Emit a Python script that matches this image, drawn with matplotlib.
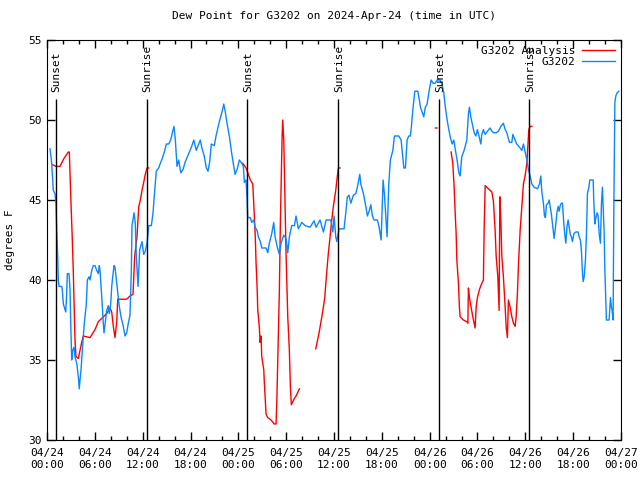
import matplotlib
matplotlib.use("Agg")
import matplotlib.pyplot as plt
import numpy as np

plt.rcParams['font.family'] = ['DejaVu Sans Mono']
plt.rcParams['font.size'] = 8

nan = np.nan

# hours since 2024-04-24 00:00 UTC
obs_hours = [0.38, 0.59, 0.79, 1.00, 1.13, 1.22, 1.34, 1.42, 1.51, 1.84, 1.92, 2.05, 2.35, 2.47,
             2.55, 2.76, 2.89, 2.97, 3.10, 3.22, 3.39, 3.51, 3.73, 3.93, 4.05, 4.14, 4.27, 4.43,
             4.68, 4.93, 5.06, 5.27, 5.40, 5.61, 5.81, 6.02, 6.24, 6.44, 6.56, 6.65, 6.86, 7.06,
             7.15, 7.28, 7.49, 7.69, 7.82, 7.99, 8.12, 8.24, 8.41, 8.53, 8.66, 8.82, 9.03, 9.28,
             9.57, 9.79, 10.0, 10.2, 10.41, 10.58, 10.66, 10.92, 11.08, 11.20, 11.42, 11.63, 11.92,
             12.13, 12.33, 12.55, 12.76, 13.09, 13.30, 13.51, 13.71, 14.01, 14.22, 14.47, 14.77,
             14.97, 15.27, 15.52, 15.72, 15.93, 16.10, 16.31, 16.52, 16.78, 17.06, 17.35, 17.69,
             18.11, 18.41, 18.73, 18.95, 19.23, 19.45, 19.70, 19.99, 20.20, 20.41, 20.61, 20.99,
             21.20, 21.62, 22.05, 22.17, 22.33, 22.58, 22.87, 23.17, 23.43, 23.59, 23.84, 24.13,
             24.43, 24.63, 24.76, 24.97, 25.09, 25.18, 25.51, 25.68, 25.93, 26.10, 26.35, 26.51,
             26.76, 26.94, 27.48, 27.69, 27.89, 28.19, 28.44, 28.61, 28.86, 29.15, 29.36, 29.70,
             29.99, 30.20, 30.40, 30.70, 31.03, 31.24, 31.53, 31.96, 32.37, 33.00, 33.50, 33.75,
             34.25, 34.67, 35.01, 35.60, 35.85, 36.01, 36.22, 36.35, 36.64, 37.26, 37.48, 37.68,
             37.89, 38.11, 38.43, 38.73, 38.93, 39.23, 39.36, 39.69, 39.99, 40.19, 40.40, 40.62,
             40.82, 41.03, 41.44, 41.66, 41.91, 42.16, 42.32, 42.66, 42.87, 43.07, 43.38, 43.58,
             44.13, 44.42, 44.67, 44.76, 44.96, 45.17, 45.38, 45.58, 45.71, 45.92, 46.14, 46.51,
             46.71, 46.84, 47.05, 47.26, 47.46, 47.68, 47.89, 48.18, 48.43, 48.72, 48.93, 49.31,
             49.56, 49.77, 49.97, 50.19, 50.40, 50.60, 50.82, 51.03, 51.23, 51.44, 51.66, 51.82,
             52.03, 52.32, 52.66, 52.86, 52.99, 53.16, 53.41, 53.58, 53.79, 53.99, 54.42, 54.54,
             54.74, 54.96, 55.25, 55.58, 55.80, 56.00, 56.34, 56.63, 56.93, 57.25, 57.47, 57.68,
             58.01, 58.31, 58.43, 58.59, 58.93, 59.26, 59.56, 59.76, 59.97, 60.19, 60.39, 60.60,
             60.82, 61.10, 61.52, 61.77, 61.94, 62.07, 62.27, 62.40, 62.52, 62.65, 62.86, 62.99,
             63.27, 63.49, 63.61, 63.78, 63.99, 64.12, 64.24, 64.40, 64.53, 64.66, 64.83, 64.96,
             65.08, 65.24, 65.37, 65.50, 65.66, 65.78, 65.91, 66.09, 66.34, 66.62, 66.75, 66.91,
             67.04, 67.17, 67.25, 67.38, 67.54, 67.67, 67.79, 67.97, 68.09, 68.51, 68.59, 68.72,
             68.85, 69.01, 69.13, 69.26, 69.42, 69.55, 69.67, 69.76, 69.89, 69.97, 70.10, 70.17,
             70.51, 70.68, 70.80, 70.89, 71.01, 71.10, 71.23, 71.35, 71.52, 71.73]
obs_dewpt = [48.2, 47.3, 45.6, 45.4, 44.8, 43.1, 41.5, 40.0, 39.6, 39.6, 39.4, 38.5, 38.0, 39.2,
             40.4, 40.4, 39.4, 37.4, 35.0, 35.6, 35.8, 35.2, 34.8, 33.95, 33.2, 33.75, 34.4, 35.6,
             37.3, 38.5, 40.0, 40.2, 40.0, 40.6, 40.9, 40.9, 40.6, 40.4, 40.9, 40.6, 39.0, 37.3,
             36.7, 37.2, 38.1, 38.4, 37.9, 38.5, 39.6, 40.2, 40.9, 40.8, 40.2, 39.4, 38.5, 37.7,
             37.1, 36.5, 36.7, 37.3, 37.8, 40.6, 43.4, 44.2, 43.5, 41.5, 39.6, 41.9, 42.4,
             41.6, 41.8, 42.3, 43.4, 43.4, 44.2, 45.6, 46.8, 47.0, 47.3, 47.6, 48.1,
             48.5, 48.5, 48.75, 49.2, 49.6, 48.75, 47.1, 47.5, 46.7, 46.9, 47.4, 47.8,
             48.3, 48.75, 48.1, 48.4, 48.75, 48.2, 47.8, 47.0, 46.8, 47.4, 48.5, 48.4,
             49.0, 49.9, 50.7, 51.0, 50.6, 49.8, 49.0, 47.9, 47.1, 46.6, 46.9, 47.5,
             47.3, 47.1, 46.1, 46.25, 45.1, 43.9, 43.9, 43.6, 43.75, 43.3, 43.1, 42.7,
             42.4, 42.0, 42.0, 41.7, 42.3, 42.9, 43.6, 42.7, 42.1, 41.6, 42.3, 42.8,
             42.6, 41.7, 42.7, 43.4, 43.4, 44.0, 43.2, 43.6, 43.4, 43.3, 43.7, 43.3,
             43.75, 43.0, 43.75, 43.75, 43.0, 44.0, 42.7, 42.4, 43.2, 43.2, 44.2, 45.2,
             45.3, 44.8, 45.3, 45.4, 45.8, 46.6, 46.0, 45.4, 44.6, 44.0, 44.3, 44.7,
             44.0, 43.75, 43.75, 43.3, 42.5, 46.25, 45.4, 42.7, 46.0, 47.5, 48.1, 49.0,
             49.0, 48.75, 47.5, 47.0, 47.0, 48.75, 49.0, 49.0, 49.6, 50.8, 51.8, 51.8,
             51.25, 50.8, 50.5, 50.2, 50.8, 51.0, 51.7, 52.5, 52.3, 52.3, 52.5, 52.5,
             52.2, 51.7, 50.8, 50.0, 49.4, 48.9, 48.5, 48.75, 48.1, 47.5, 46.7, 46.5,
             47.7, 48.1, 48.75, 50.4, 50.8, 50.2, 49.6, 49.2, 49.0, 49.4, 48.5, 49.1,
             49.4, 49.1, 49.3, 49.5, 49.3, 49.2, 49.2, 49.3, 49.6, 49.8, 49.4, 49.2,
             48.6, 48.6, 49.1, 48.9, 48.5, 48.3, 48.1, 48.5, 48.0, 47.5, 46.9, 46.5,
             46.0, 45.8, 45.7, 46.0, 46.5, 45.5, 44.8, 44.0, 43.9, 44.7, 44.8, 45.0,
             44.1, 43.1, 42.6, 43.3, 44.3, 44.6, 44.3, 44.7, 44.8, 44.8, 43.5, 42.8,
             42.3, 43.4, 43.75, 43.3, 42.8, 42.7, 42.4, 42.9, 43.0, 43.0, 42.7, 42.5,
             41.8, 40.4, 39.9, 40.2, 41.25, 42.9, 45.4, 45.8, 46.25, 46.25, 44.9, 43.5,
             43.9, 44.2, 44.0, 42.9, 42.3, 44.8, 45.8, 44.6, 42.9, 40.7, 38.6, 37.5,
             37.5, 38.9, 38.3, 38.1, 37.5, 44.3, 51.1, 51.5, 51.7, 51.8]

# analysis series, nan marks gaps
ana_hours = [0.72, 1.13, 1.63, 2.13, 2.67, 2.80, 3.01, 3.17, 3.30, 3.51, 3.64, 3.93, 4.35, 4.55,
             5.40, 6.02, 6.44, 7.06, 7.49, 7.90, 8.12, 8.32, 8.53, 8.75, 8.87, 10.0, 10.41, 10.79,
             11.00, 11.29, 11.51, 11.71, 11.92, 12.13, 12.33, 12.55, 12.76, 13.5,
             24.55, 24.97, 25.26, 25.51, 25.81, 26.01, 26.14, 26.22, 26.35, 26.44, 26.64, 26.73,
             26.85, 26.94, 27.19, 27.26, 27.48, 27.69, 28.11, 28.52, 28.73, 28.82, 28.95, 29.15,
             29.27, 29.36, 29.49, 29.57, 29.70, 29.86, 29.99, 30.20, 30.40, 30.53, 30.65, 31.03,
             31.24, 31.66, 32.5,
             33.71, 34.13, 34.54, 34.84, 35.04, 35.26, 35.51, 35.72, 35.92, 36.22, 36.42, 36.55,
             36.76, 37.5,
             48.72, 48.93, 49.5,
             50.69, 50.90, 51.07, 51.19, 51.32, 51.41, 51.61, 51.73, 51.82, 52.23, 52.66, 52.79,
             52.86, 52.99, 53.20, 53.41, 53.58, 53.70, 53.83, 53.99, 54.24, 54.54, 54.74, 54.83,
             54.96, 55.37, 55.80, 56.00, 56.21, 56.34, 56.55, 56.71, 56.80, 56.93, 57.05, 57.25,
             57.47, 57.59, 57.75, 57.88, 58.09, 58.31, 58.51, 58.72, 58.85, 59.01, 59.14, 59.35,
             59.56, 59.76, 59.97, 60.19, 60.31, 60.44, 60.60, 60.82]
ana_dewpt = [47.2, 47.1, 47.1, 47.6, 48.0, 48.0, 44.8, 42.6, 40.5, 36.25, 35.2, 35.1, 36.1, 36.5,
             36.4, 36.9, 37.4, 37.7, 37.9, 38.25, 38.0, 37.1, 36.4, 37.4, 38.8, 38.8, 39.0, 39.1,
             41.5, 42.7, 44.6, 45.0, 45.6, 46.1, 46.6, 47.0, 47.0, nan,
             47.3, 47.0, 46.6, 46.25, 46.0, 44.0, 42.5, 41.1, 39.6, 38.1, 37.0, 36.1,
             36.5, 35.2, 34.4, 33.6, 31.6, 31.4, 31.25, 31.0, 31.0, 32.3, 35.2, 39.4,
             43.5, 45.8, 49.0, 50.0, 48.75, 44.6, 41.5, 37.7, 35.6, 33.3, 32.2, 32.6,
             32.75, 33.2, nan,
             35.7, 36.7, 37.9, 38.9, 40.2, 41.5, 42.7, 43.75, 44.6, 45.6, 46.5, 47.0,
             47.0, nan,
             49.5, 49.5, nan,
             48.0, 47.3, 45.8, 44.3, 42.9, 41.25, 39.8, 38.3, 37.7, 37.5, 37.4, 37.3,
             39.5, 38.9, 38.3, 37.7, 37.3, 37.0, 38.3, 38.9, 39.4, 39.8, 40.0, 43.1,
             45.9, 45.7, 45.5, 44.9, 43.1, 41.5, 40.2, 38.1, 45.2, 43.75, 41.5, 40.2,
             38.3, 37.1, 36.4, 38.75, 38.3, 37.7, 37.3, 37.1, 37.7, 39.2, 41.0, 43.1,
             44.6, 46.0, 46.5, 47.3, 48.3, 49.4, 49.6, 49.6]

sun_hours = [1.1, 12.53, 25.13, 36.52, 49.2, 60.48]
sun_labels = ['Sunset', 'Sunrise', 'Sunset', 'Sunrise', 'Sunset', 'Sunrise']

xtick_hours = [0, 6, 12, 18, 24, 30, 36, 42, 48, 54, 60, 66, 72]
xtick_labels = ['04/24\n00:00', '04/24\n06:00', '04/24\n12:00', '04/24\n18:00',
                '04/25\n00:00', '04/25\n06:00', '04/25\n12:00', '04/25\n18:00',
                '04/26\n00:00', '04/26\n06:00', '04/26\n12:00', '04/26\n18:00',
                '04/27\n00:00']

fig = plt.figure(figsize=(6.4, 4.8), dpi=100)
ax = fig.add_axes([47 / 640, 40 / 480, 574 / 640, 400 / 480])

ax.plot(ana_hours, ana_dewpt, color='#ff0000', lw=1, label='G3202 Analysis')
ax.plot(obs_hours, obs_dewpt, color='#0a86ff', lw=1, label='G3202')

for h, lab in zip(sun_hours, sun_labels):
    ax.vlines(h, 30, 51.3, color='black', lw=1)
    ax.text(h + 0.1, 51.75, lab, rotation=90, ha='center', va='bottom', fontsize=8)

ax.set_xlim(0, 72)
ax.set_ylim(30, 55)
ax.set_xticks(xtick_hours)
ax.set_xticklabels(xtick_labels)
ax.set_xticks(np.arange(0, 73, 2), minor=True)
ax.set_yticks([30, 35, 40, 45, 50, 55])
ax.tick_params(which='both', direction='in', top=True, right=True)
ax.tick_params(which='major', length=6, width=1, pad=6)
ax.tick_params(which='minor', length=3, width=1)
ax.tick_params(axis='y', pad=4)

ax.set_ylabel('degrees F', labelpad=9)
ax.set_title('Dew Point for G3202 on 2024-Apr-24 (time in UTC)', fontsize=8, pad=15)

ax.legend(loc='upper right', frameon=False, markerfirst=False, handlelength=3.0,
          borderaxespad=0.1, labelspacing=0.1, handletextpad=0.6)

fig.savefig('out.png', dpi=100)
